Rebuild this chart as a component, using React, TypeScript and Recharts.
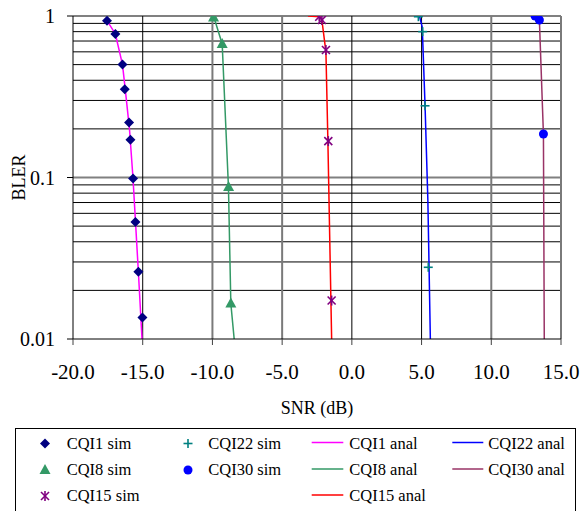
import React from 'react';
import { ComposedChart, Line, Scatter, XAxis, YAxis, ReferenceLine } from 'recharts';

// ---------- data ----------
const xTicks = [-20, -15, -10, -5, 0, 5, 10, 15];
const yTicks = [0.01, 0.1, 1];
const minorGrid = [0.02, 0.03, 0.04, 0.05, 0.06, 0.07, 0.08, 0.09, 0.2, 0.3, 0.4, 0.5, 0.6, 0.7, 0.8, 0.9];
const majorGrid = [0.1, 1];
const darkVerticals = [-15, 0, 5];
const grayVerticals = [-10, -5, 10, 15];

const cqi1SimSnr = [-17.56, -16.96, -16.45, -16.29, -15.98, -15.88, -15.69, -15.52, -15.31, -15.02];
const cqi1SimBler = [0.935, 0.774, 0.5, 0.352, 0.219, 0.171, 0.0986, 0.053, 0.0261, 0.0136];
const cqi8SimSnr = [-9.92, -9.3, -8.84, -8.68];
const cqi8SimBler = [0.98, 0.671, 0.0872, 0.0166];
const cqi15SimSnr = [-2.34, -2.15, -1.86, -1.69, -1.45];
const cqi15SimBler = [0.99, 0.945, 0.616, 0.168, 0.0173];
const cqi22SimSnr = [4.77, 5.08, 5.25, 5.48];
const cqi22SimBler = [0.99, 0.8, 0.278, 0.0278];
const cqi30SimSnr = [13.14, 13.45, 13.74];
const cqi30SimBler = [1.0, 0.945, 0.186];

const cqi1AnalSnr = [-17.56, -16.96, -16.45, -16.25, -15.95, -15.7, -15.5, -15.3, -15.05];
const cqi1AnalBler = [0.935, 0.774, 0.5, 0.35, 0.2, 0.1, 0.05, 0.025, 0.01];
const cqi8AnalSnr = [-9.92, -9.3, -8.85, -8.68, -8.44];
const cqi8AnalBler = [1.0, 0.671, 0.087, 0.0166, 0.01];
const cqi15AnalSnr = [-3.15, -2.3, -2.15, -1.86, -1.72, -1.45];
const cqi15AnalBler = [1.0, 0.99, 0.945, 0.6, 0.17, 0.01];
const cqi22AnalSnr = [4.85, 5.05, 5.25, 5.45, 5.63];
const cqi22AnalBler = [1.0, 0.85, 0.278, 0.073, 0.01];
const cqi30AnalSnr = [13.45, 13.74, 13.8];
const cqi30AnalBler = [0.945, 0.186, 0.01];

const zip = (xs: number[], ys: number[]) => xs.map((x, i) => ({ snr: x, bler: ys[i] }));

const FONT = 'Liberation Serif';
const fontStyle = { fontFamily: FONT };

// ---------- marker shapes ----------
const Diamond = (p: any) => (
  <polygon points={`${p.cx},${p.cy - 5} ${p.cx + 5},${p.cy} ${p.cx},${p.cy + 5} ${p.cx - 5},${p.cy}`} fill={p.color} />
);
const Triangle = (p: any) => (
  <polygon points={`${p.cx},${p.cy - 6} ${p.cx + 5.5},${p.cy + 4} ${p.cx - 5.5},${p.cy + 4}`} fill={p.color} />
);
const Star = (p: any) => (
  <g stroke={p.color} strokeWidth={1.6}>
    <line x1={p.cx - 4} y1={p.cy - 4} x2={p.cx + 4} y2={p.cy + 4} />
    <line x1={p.cx - 4} y1={p.cy + 4} x2={p.cx + 4} y2={p.cy - 4} />
    <line x1={p.cx} y1={p.cy - 5} x2={p.cx} y2={p.cy + 5} />
  </g>
);
const Plus = (p: any) => (
  <g stroke={p.color} strokeWidth={1.6}>
    <line x1={p.cx - 4.5} y1={p.cy} x2={p.cx + 4.5} y2={p.cy} />
    <line x1={p.cx} y1={p.cy - 4.5} x2={p.cx} y2={p.cy + 4.5} />
  </g>
);
const Dot = (p: any) => <circle cx={p.cx} cy={p.cy} r={4.5} fill={p.color} />;

const simSeries = [
  { name: 'CQI1 sim', color: '#000080', shape: Diamond, data: zip(cqi1SimSnr, cqi1SimBler) },
  { name: 'CQI8 sim', color: '#339966', shape: Triangle, data: zip(cqi8SimSnr, cqi8SimBler) },
  { name: 'CQI15 sim', color: '#800080', shape: Star, data: zip(cqi15SimSnr, cqi15SimBler) },
  { name: 'CQI22 sim', color: '#008080', shape: Plus, data: zip(cqi22SimSnr, cqi22SimBler) },
  { name: 'CQI30 sim', color: '#0000FF', shape: Dot, data: zip(cqi30SimSnr, cqi30SimBler) },
];
const analSeries = [
  { name: 'CQI1 anal', color: '#FF00FF', data: zip(cqi1AnalSnr, cqi1AnalBler) },
  { name: 'CQI8 anal', color: '#339966', data: zip(cqi8AnalSnr, cqi8AnalBler) },
  { name: 'CQI15 anal', color: '#FF0000', data: zip(cqi15AnalSnr, cqi15AnalBler) },
  { name: 'CQI22 anal', color: '#0000FF', data: zip(cqi22AnalSnr, cqi22AnalBler) },
  { name: 'CQI30 anal', color: '#993366', data: zip(cqi30AnalSnr, cqi30AnalBler) },
];

const LegendBox = () => {
  const rows = [20.5, 47, 73];
  const simCols = [{ m: 30, t: 51.7 }, { m: 173, t: 193.3 }];
  const analCols = [{ l1: 296.7, l2: 328.3, t: 334.3 }, { l1: 437.3, l2: 468.3, t: 473.3 }];
  return (
    <svg width={561} height={100} style={{ position: 'absolute', left: 15, top: 428 }}>
      <rect x={0.5} y={0.5} width={560} height={99} fill="#fff" stroke="#000" />
      {simSeries.map((s, i) => {
        const c = simCols[Math.floor(i / 3)];
        const y = rows[i % 3];
        const Shape = s.shape;
        return (
          <g key={s.name}>
            <Shape cx={c.m} cy={y - 5} color={s.color} />
            <text x={c.t} y={y} style={fontStyle} fontSize={16.5} fill="#000">{s.name}</text>
          </g>
        );
      })}
      {analSeries.map((s, i) => {
        const c = analCols[Math.floor(i / 3)];
        const y = rows[i % 3];
        return (
          <g key={s.name}>
            <line x1={c.l1} x2={c.l2} y1={y - 6} y2={y - 6} stroke={s.color} strokeWidth={1.5} />
            <text x={c.t} y={y} style={fontStyle} fontSize={16.5} fill="#000">{s.name}</text>
          </g>
        );
      })}
    </svg>
  );
};

export default function App() {
  return (
    <div style={{ position: 'absolute', left: 0, top: 0, width: 580, height: 511, background: '#fff', overflow: 'hidden', fontFamily: FONT }}>
      <ComposedChart width={580} height={511} margin={{ top: 16, right: 19, bottom: 132, left: 0 }} style={fontStyle}>
        <XAxis
          dataKey="snr"
          type="number"
          domain={[-20, 15]}
          ticks={xTicks}
          allowDataOverflow
          tickFormatter={(v: number) => v.toFixed(1)}
          tick={{ fontSize: 21, fill: '#000', style: fontStyle }}
          tickSize={6}
          tickMargin={19}
          height={40}
          axisLine={{ stroke: '#000', strokeWidth: 1 }}
          tickLine={{ stroke: '#404040' }}
          label={{
            content: (props: any) => {
              const vb = props.viewBox;
              return (
                <text x={vb.x + vb.width / 2} y={414} textAnchor="middle" style={fontStyle} fontSize={18} fill="#000">SNR (dB)</text>
              );
            },
          }}
        />
        <YAxis
          dataKey="bler"
          type="number"
          scale="log"
          domain={[0.01, 1]}
          ticks={yTicks}
          allowDataOverflow
          width={73}
          tick={{ fontSize: 20, fill: '#000', style: fontStyle }}
          tickFormatter={(v: number) => String(v)}
          tickSize={6}
          tickMargin={12}
          axisLine={{ stroke: '#000' }}
          tickLine={{ stroke: '#000' }}
          label={{
            content: (props: any) => {
              const vb = props.viewBox;
              const cy = vb.y + vb.height / 2;
              return (
                <text x={25} y={cy} transform={`rotate(-90 25 ${cy})`} textAnchor="middle" style={fontStyle} fontSize={18} fill="#000">BLER</text>
              );
            },
          }}
        />
        {minorGrid.map((v) => (
          <ReferenceLine key={'h' + v} y={v} stroke="#000" strokeWidth={1} />
        ))}
        {majorGrid.map((v) => (
          <ReferenceLine key={'H' + v} y={v} stroke="#808080" strokeWidth={2} />
        ))}
        {darkVerticals.map((v) => (
          <ReferenceLine key={'v' + v} x={v} stroke="#000" strokeWidth={1} />
        ))}
        {grayVerticals.map((v) => (
          <ReferenceLine key={'g' + v} x={v} stroke="#7a7a7a" strokeWidth={2} />
        ))}
        {analSeries.map((s) => (
          <Line
            key={s.name}
            data={s.data}
            dataKey="bler"
            name={s.name}
            stroke={s.color}
            strokeWidth={1.5}
            dot={false}
            activeDot={false}
            isAnimationActive={false}
          />
        ))}
        {simSeries.map((s) => {
          const Shape = s.shape;
          return (
            <Scatter
              key={s.name}
              data={s.data}
              dataKey="bler"
              name={s.name}
              fill={s.color}
              shape={(p: any) => <Shape cx={p.cx} cy={p.cy} color={s.color} />}
              isAnimationActive={false}
            />
          );
        })}
      </ComposedChart>
      <LegendBox />
    </div>
  );
}
